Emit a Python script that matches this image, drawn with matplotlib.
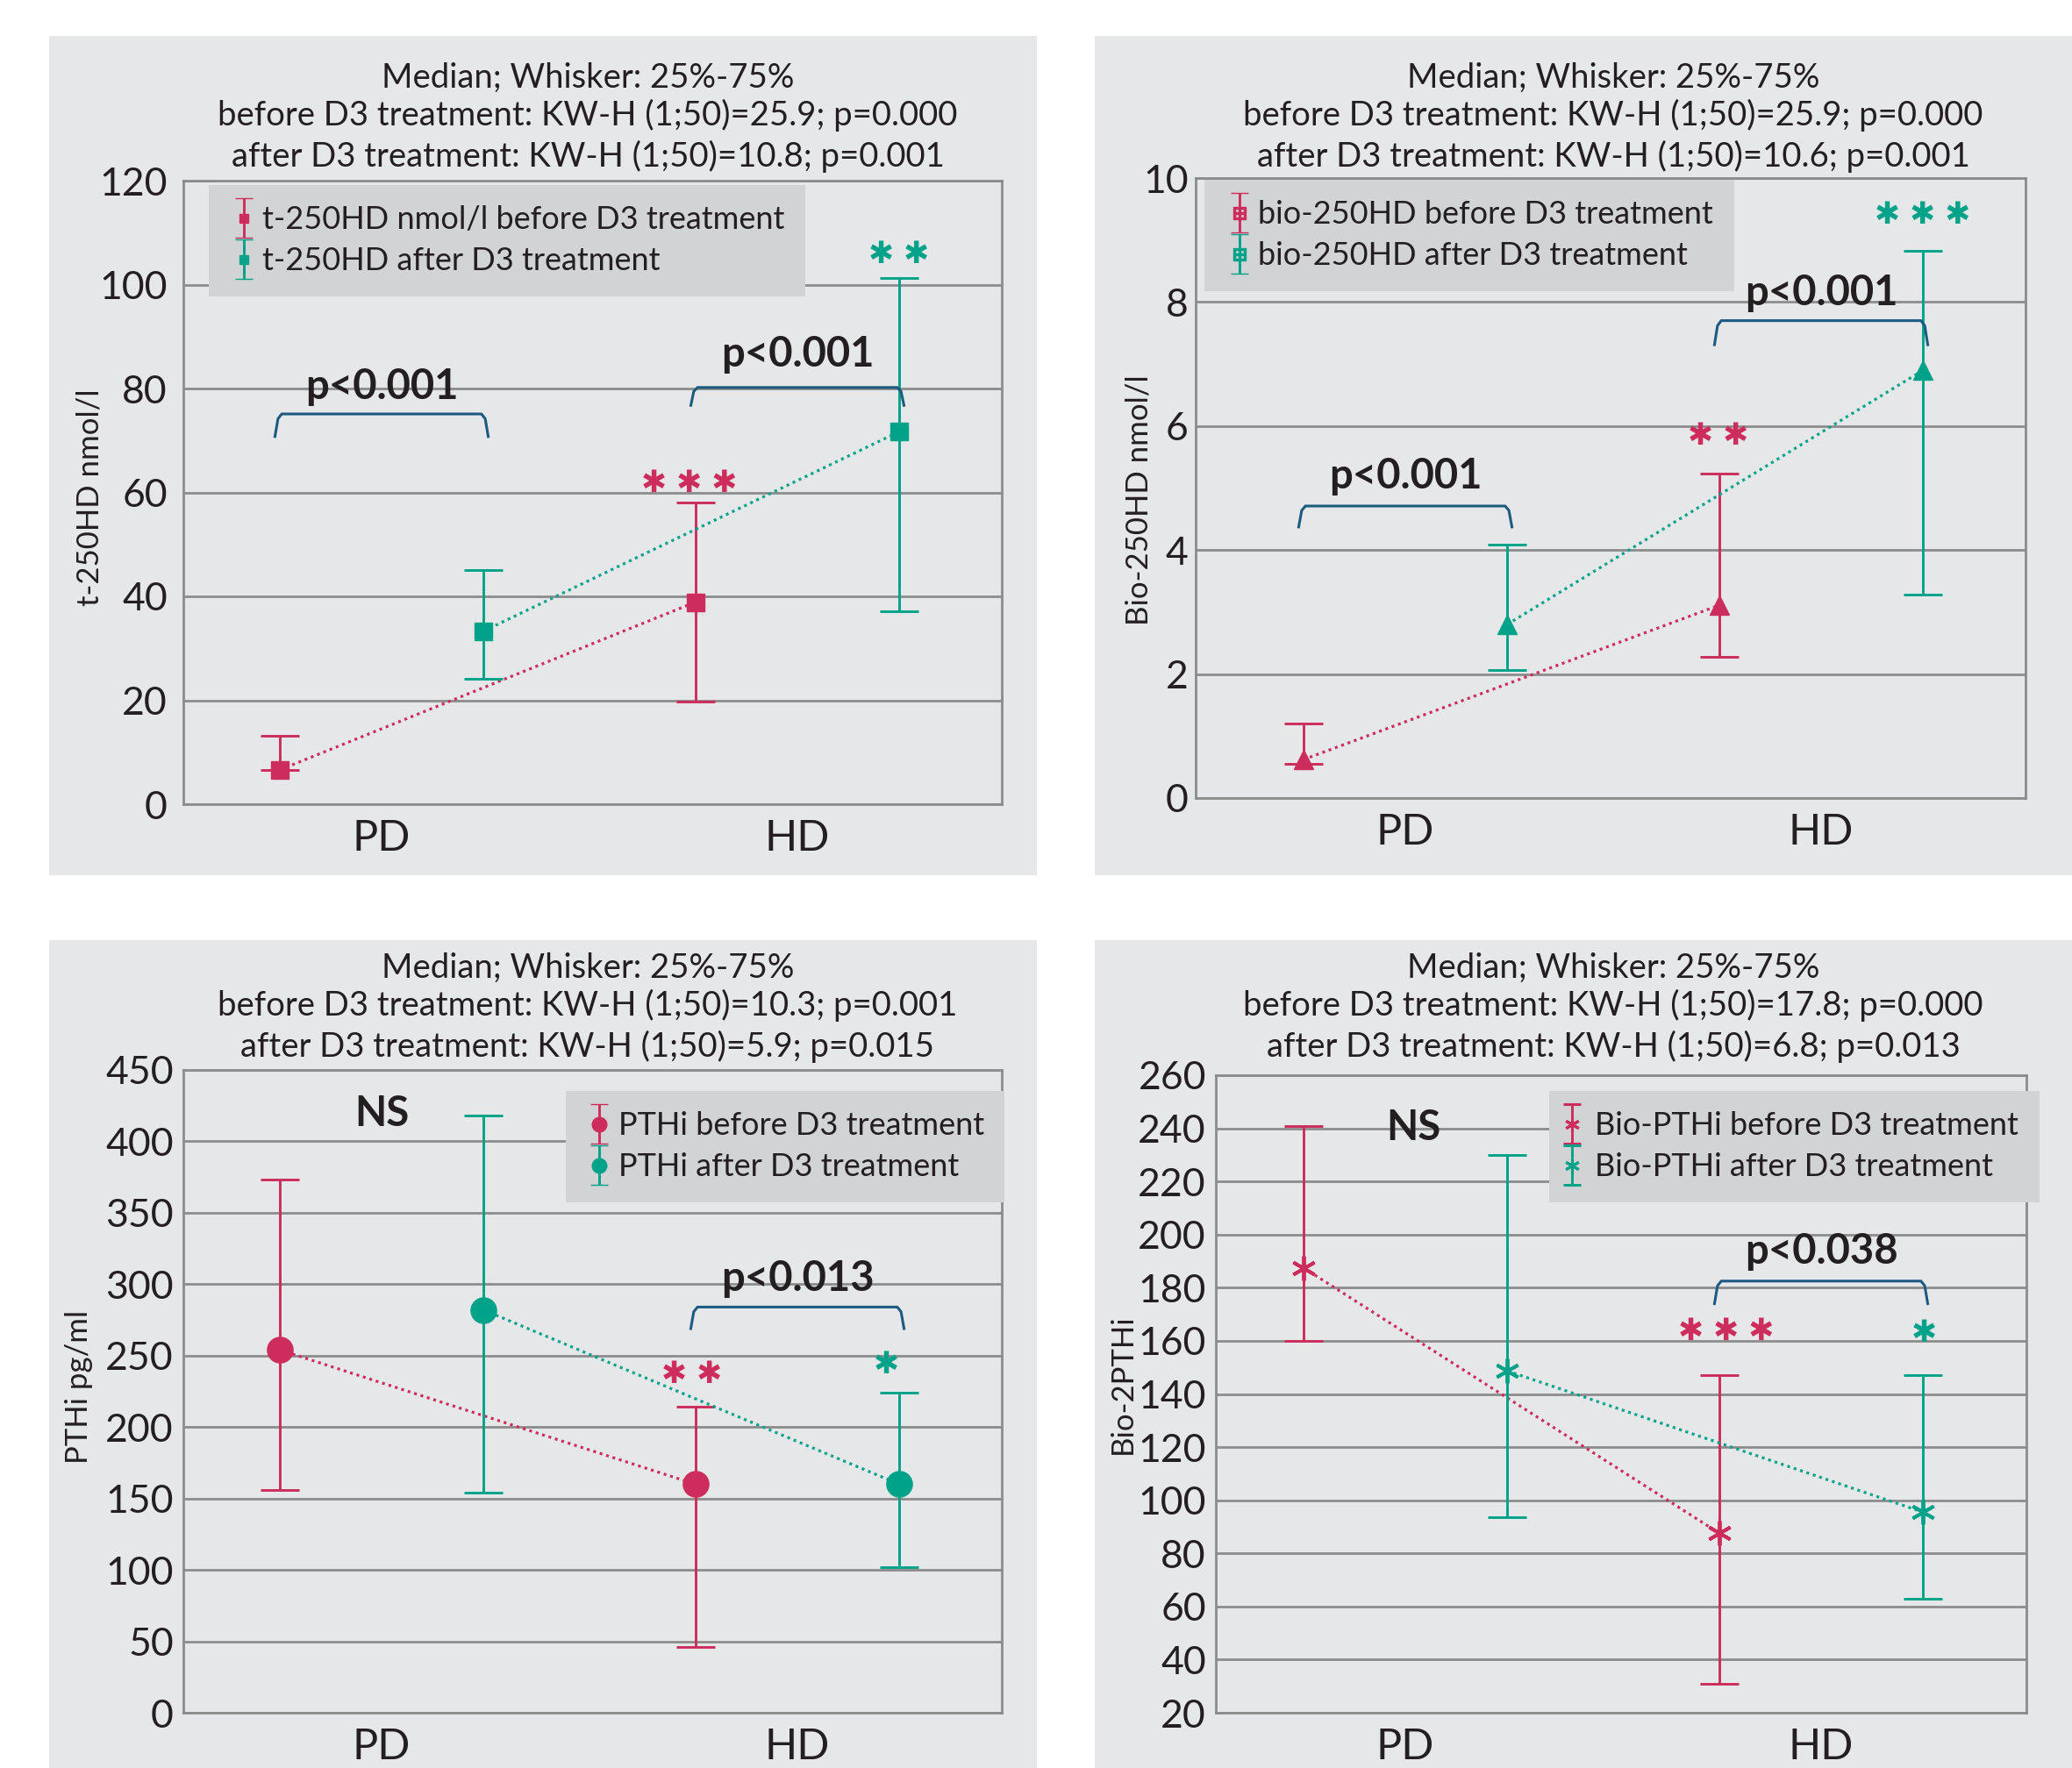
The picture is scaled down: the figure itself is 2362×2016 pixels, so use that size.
import matplotlib
matplotlib.use('Agg')
import matplotlib.pyplot as plt
import numpy as np
from matplotlib.patches import Rectangle
from matplotlib.legend_handler import HandlerErrorbar
from matplotlib.container import ErrorbarContainer

plt.rcParams['font.family'] = ['Lato', 'DejaVu Sans']

W, H, DPI = 2362, 2016, 100

RED = '#cd2d5c'
TEAL = '#00a389'
GRID = '#8c8c8c'
PANEL = '#e6e7e9'
LEGBG = '#d2d3d5'
TXT = '#231f20'
BRACK = '#1d5a80'

categories = ['PD', 'HD']

# Panel A: t-25OHD (nmol/l)
t25_before_med = [6.6, 38.9]
t25_before_lo = [6.6, 19.8]
t25_before_hi = [13.2, 58.0]
t25_after_med = [33.3, 71.7]
t25_after_lo = [24.2, 37.1]
t25_after_hi = [45.0, 101.2]

# Panel B: bio-25OHD (nmol/l)
bio25_before_med = [0.62, 3.11]
bio25_before_lo = [0.55, 2.28]
bio25_before_hi = [1.20, 5.23]
bio25_after_med = [2.80, 6.90]
bio25_after_lo = [2.07, 3.28]
bio25_after_hi = [4.09, 8.83]

# Panel C: PTHi (pg/ml)
pthi_before_med = [254, 160]
pthi_before_lo = [156, 46]
pthi_before_hi = [373, 214]
pthi_after_med = [282, 160]
pthi_after_lo = [154, 102]
pthi_after_hi = [418, 224]

# Panel D: Bio-PTHi
biopth_before_med = [187.5, 87.6]
biopth_before_lo = [160.0, 31.0]
biopth_before_hi = [241.0, 147.0]
biopth_after_med = [148.7, 95.5]
biopth_after_lo = [93.5, 63.0]
biopth_after_hi = [230.0, 147.0]

titles_A = ['Median; Whisker: 25%-75%',
            'before D3 treatment: KW-H (1;50)=25.9; p=0.000',
            'after D3 treatment: KW-H (1;50)=10.8; p=0.001']
titles_B = ['Median; Whisker: 25%-75%',
            'before D3 treatment: KW-H (1;50)=25.9; p=0.000',
            'after D3 treatment: KW-H (1;50)=10.6; p=0.001']
titles_C = ['Median; Whisker: 25%-75%',
            'before D3 treatment: KW-H (1;50)=10.3; p=0.001',
            'after D3 treatment: KW-H (1;50)=5.9; p=0.015']
titles_D = ['Median; Whisker: 25%-75%',
            'before D3 treatment: KW-H (1;50)=17.8; p=0.000',
            'after D3 treatment: KW-H (1;50)=6.8; p=0.013']

OFF = 0.245
SPACING = 474.0  # px between PD and HD

fig = plt.figure(figsize=(W / DPI, H / DPI), dpi=DPI)
fig.patch.set_facecolor('white')


def bg(l, t, r, b):
    fig.add_artist(Rectangle((l / W, 1 - b / H), (r - l) / W, (b - t) / H,
                             transform=fig.transFigure, facecolor=PANEL,
                             edgecolor='none', zorder=0))


def bracket(ax, xl, xr, ytop, ybot, dx=0.012):
    xs = [xl - dx, xl - dx * 0.35, xl + dx * 0.4, xr - dx * 0.4, xr + dx * 0.35, xr + dx]
    yv = [ybot, ytop - (ytop - ybot) * 0.2, ytop, ytop, ytop - (ytop - ybot) * 0.2, ybot]
    ax.plot(xs, yv, color=BRACK, lw=2.2, solid_joinstyle='round',
            solid_capstyle='butt', zorder=5)


def panel(cfg):
    l, r, t, b = cfg['axpx']
    ax = fig.add_axes([l / W, 1 - b / H, (r - l) / W, (b - t) / H])
    ax.set_facecolor('none')
    pd = cfg['pdpx']
    ax.set_xlim((l - pd) / SPACING, (r - pd) / SPACING)
    ax.set_ylim(cfg['ylim'])
    ax.set_yticks(cfg['yticks'])
    ax.set_yticklabels([str(v) for v in cfg['yticks']])
    x = np.arange(len(categories))
    ax.set_xticks(x)
    ax.set_xticklabels(categories)
    ax.tick_params(axis='both', length=0, colors=TXT)
    ax.tick_params(axis='y', labelsize=32, pad=cfg['ypad'])
    ax.tick_params(axis='x', labelsize=35, pad=12)
    ax.yaxis.grid(True, color=GRID, lw=2.0)
    ax.set_axisbelow(True)
    for s in ax.spines.values():
        s.set_color(GRID)
        s.set_linewidth(2.0)
        s.set_zorder(1)

    handles = []
    for sign, med, lo, hi, col in [(-1, cfg['bmed'], cfg['blo'], cfg['bhi'], RED),
                                   (1, cfg['amed'], cfg['alo'], cfg['ahi'], TEAL)]:
        xs = x + sign * OFF
        med = np.asarray(med, float)
        lo = np.asarray(lo, float)
        hi = np.asarray(hi, float)
        yerr = [np.clip(med - lo, 0, None), np.clip(hi - med, 0, None)]
        ax.errorbar(xs, med, yerr=yerr, fmt='none', ecolor=col, elinewidth=2.1,
                    capsize=16, capthick=2.1, zorder=3)
        ax.plot(xs, med, ls=(0, (1, 1.4)), color=col, lw=2.3, zorder=3)
        ax.plot(xs, med, ls='none', marker=cfg['marker'], ms=cfg['ms'],
                color=col, mew=cfg.get('mew', 1), zorder=4)
        h = ax.errorbar([np.nan], [np.nan], yerr=[[1], [1]], marker=cfg['lmarker'],
                        ls='none', ms=cfg['lms'], color=col, ecolor=col, elinewidth=2.1,
                        capsize=7, capthick=2.1, mew=cfg.get('lmew', 1),
                        mfc=cfg.get('lmfc', col))
        handles.append(h)

    lx, ly = cfg['legpx']
    leg = ax.legend(handles, cfg['labels'], loc='upper left',
                    bbox_to_anchor=((lx - l) / (r - l), 1 - (ly - t) / (b - t)),
                    borderaxespad=0, frameon=True, fancybox=False,
                    facecolor=LEGBG, edgecolor='none', framealpha=1,
                    fontsize=26, borderpad=0.65, handlelength=cfg['hl'],
                    handletextpad=cfg['htp'], labelspacing=0.38,
                    handler_map={ErrorbarContainer: HandlerErrorbar(xerr_size=0.5, yerr_size=0.62)})
    leg.get_frame().set_linewidth(0)
    for tx in leg.get_texts():
        tx.set_color(TXT)
    leg.set_zorder(10)

    # titles
    cx = cfg['titlex']
    for txt, bl in zip(cfg['titles'], cfg['title_bl']):
        fig.text(cx / W, 1 - bl / H, txt, ha='center', va='baseline',
                 fontsize=27.5, color=TXT)
    # y label
    yx, yy = cfg['ylabpx']
    fig.text(yx / W, 1 - yy / H, cfg['ylabel'], rotation=90, ha='center',
             va='center', fontsize=25, color=TXT)

    # significance stars
    for (sx, sy, s, col) in cfg['stars']:
        ax.text(sx, sy, s, ha='center', va='center', color=col, fontsize=25,
                family='DejaVu Sans', zorder=6)
    # brackets with p-values
    for (xl, xr, yt, yb, ty, s) in cfg['brackets']:
        bracket(ax, xl, xr, yt, yb)
        ax.text((xl + xr) / 2, ty, s, ha='center', va='baseline', fontsize=34,
                fontweight='bold', color=TXT, zorder=6)
    for (nx, ny) in cfg.get('ns', []):
        ax.text(nx, ny, 'NS', ha='center', va='baseline', fontsize=34,
                fontweight='bold', color=TXT, zorder=6)
    return ax


bg(56, 41, 1182, 998)
bg(1248, 41, 2362, 998)
bg(56, 1072, 1182, 2016)
bg(1248, 1072, 2362, 2016)

panel(dict(
    axpx=(209, 1142, 206, 917), pdpx=435, ylim=(0, 120), yticks=list(range(0, 121, 20)),
    ypad=13, bmed=t25_before_med, blo=t25_before_lo, bhi=t25_before_hi,
    amed=t25_after_med, alo=t25_after_lo, ahi=t25_after_hi,
    marker='s', ms=15, lmarker='s', lms=7,
    labels=['t-250HD nmol/l before D3 treatment', 't-250HD after D3 treatment'],
    legpx=(238, 211), hl=0.9, htp=0.15,
    titles=titles_A, titlex=670, title_bl=[100, 143, 190],
    ylabel='t-250HD nmol/l', ylabpx=(102, 567),
    stars=[(0.74, 61.8, '\u2731 \u2731 \u2731', RED), (1.244, 105.8, '\u2731 \u2731', TEAL)],
    brackets=[(-OFF, OFF, 75.1, 70.5, 78.0, 'p<0.001'),
              (1 - OFF, 1 + OFF, 80.2, 76.5, 84.2, 'p<0.001')],
))

panel(dict(
    axpx=(1363, 2309, 203, 910), pdpx=1602, ylim=(0, 10), yticks=list(range(0, 11, 2)),
    ypad=6, bmed=bio25_before_med, blo=bio25_before_lo, bhi=bio25_before_hi,
    amed=bio25_after_med, alo=bio25_after_lo, ahi=bio25_after_hi,
    marker='^', ms=16, lmarker=r'$\boxplus$', lms=10,
    labels=['bio-250HD before D3 treatment', 'bio-250HD after D3 treatment'],
    legpx=(1373, 205), hl=0.9, htp=0.15,
    titles=titles_B, titlex=1839, title_bl=[100, 143, 190],
    ylabel='Bio-250HD nmol/l', ylabpx=(1298, 570),
    stars=[(0.752, 5.84, '\u2731 \u2731', RED), (1.244, 9.4, '\u2731 \u2731 \u2731', TEAL)],
    brackets=[(-OFF, OFF, 4.71, 4.35, 4.99, 'p<0.001'),
              (1 - OFF, 1 + OFF, 7.70, 7.29, 7.95, 'p<0.001')],
))

panel(dict(
    axpx=(209, 1142, 1220, 1953), pdpx=435, ylim=(0, 450), yticks=list(range(0, 451, 50)),
    ypad=8, bmed=pthi_before_med, blo=pthi_before_lo, bhi=pthi_before_hi,
    amed=pthi_after_med, alo=pthi_after_lo, ahi=pthi_after_hi,
    marker='o', ms=21, lmarker='o', lms=12,
    labels=['PTHi before D3 treatment', 'PTHi after D3 treatment'],
    legpx=(645, 1244), hl=0.8, htp=0.2,
    titles=titles_C, titlex=670, title_bl=[1115, 1158, 1205],
    ylabel='PTHi pg/ml', ylabpx=(90, 1581),
    stars=[(0.746, 237, '\u2731 \u2731', RED), (1.213, 244, '\u2731', TEAL)],
    brackets=[(1 - OFF, 1 + OFF, 284, 268, 295, 'p<0.013')],
    ns=[(0.0, 411)],
))

panel(dict(
    axpx=(1386, 2310, 1226, 1953), pdpx=1602, ylim=(20, 260), yticks=list(range(20, 261, 20)),
    ypad=8, bmed=biopth_before_med, blo=biopth_before_lo, bhi=biopth_before_hi,
    amed=biopth_after_med, alo=biopth_after_lo, ahi=biopth_after_hi,
    marker=(6, 2, 0), ms=20, mew=2.8, lmarker=(6, 2, 0), lms=12, lmew=2.2,
    labels=['Bio-PTHi before D3 treatment', 'Bio-PTHi after D3 treatment'],
    legpx=(1766, 1244), hl=0.15, htp=0.65,
    titles=titles_D, titlex=1839, title_bl=[1115, 1158, 1205],
    ylabel='Bio-2PTHi', ylabpx=(1280, 1578),
    stars=[(0.771, 163.6, '\u2731 \u2731 \u2731', RED), (1.248, 163, '\u2731', TEAL)],
    brackets=[(1 - OFF, 1 + OFF, 182.5, 173.5, 189, 'p<0.038')],
    ns=[(0.019, 235.6)],
))

fig.savefig('out.png', dpi=DPI, facecolor='white')
